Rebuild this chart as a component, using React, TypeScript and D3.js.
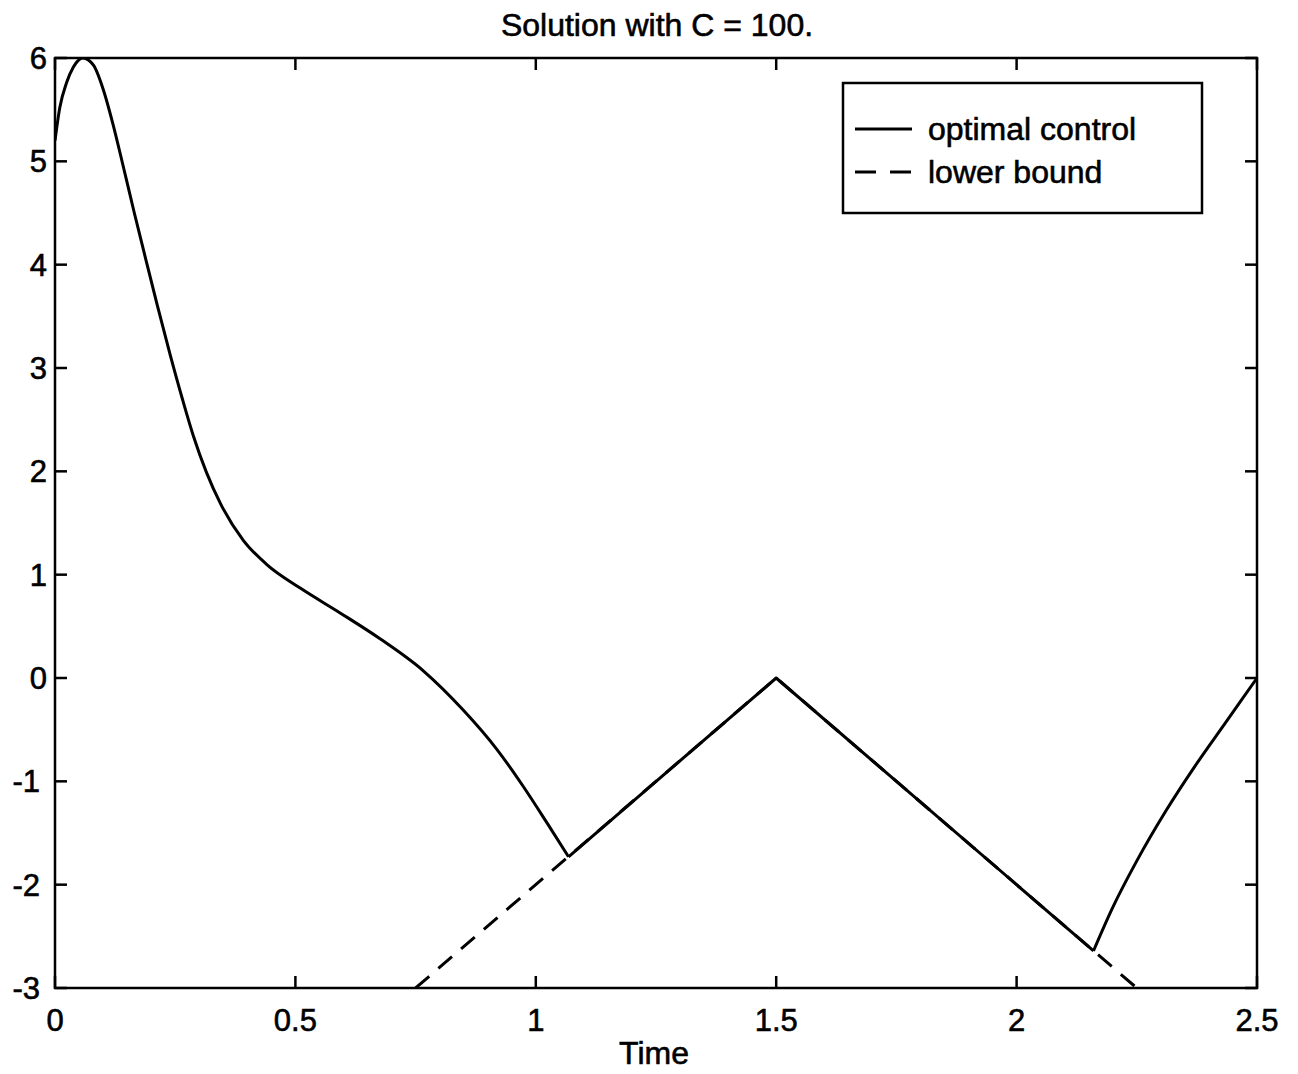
import React from "react"
import * as d3 from "d3"

// optimal control, smooth start (t, value)
const controlHead: [number, number][] = [
  [0, 5.2], [0.01, 5.52], [0.024, 5.76], [0.038, 5.91], [0.058, 6.0],
  [0.08, 5.93], [0.1, 5.7], [0.12, 5.37], [0.142, 4.95], [0.165, 4.5],
  [0.19, 4.03], [0.212, 3.62], [0.24, 3.12], [0.265, 2.7], [0.288, 2.34],
  [0.315, 1.99], [0.345, 1.68], [0.392, 1.33], [0.44, 1.1], [0.51, 0.87],
  [0.593, 0.63], [0.676, 0.38], [0.766, 0.07], [0.849, -0.31], [0.919, -0.69],
  [0.974, -1.05], [1.023, -1.4], [1.068, -1.73]
]
// on the constraint
const controlMid: [number, number][] = [[1.068, -1.73], [1.5, 0], [2.16, -2.64]]
// smooth end
const controlTail: [number, number][] = [
  [2.16, -2.64], [2.2, -2.22], [2.25, -1.77], [2.31, -1.29],
  [2.37, -0.86], [2.435, -0.43], [2.5, 0]
]
const lowerBound: [number, number][] = [[0.75, -3], [1.5, 0], [2.25, -3]]

const xTicks = [0, 0.5, 1, 1.5, 2, 2.5]
const xTickLabels = ["0", "0.5", "1", "1.5", "2", "2.5"]
const yTicks = [-3, -2, -1, 0, 1, 2, 3, 4, 5, 6]

const W = 1298
const H = 1074
const left = 55
const right = 1257
const top = 58
const bottom = 988
const font = "'Liberation Sans', Arial, Helvetica, sans-serif"

export default function App() {
  const x = d3.scaleLinear().domain([0, 2.5]).range([left, right])
  const y = d3.scaleLinear().domain([-3, 6]).range([bottom, top])

  const smooth = d3.line<[number, number]>()
    .x(d => x(d[0]))
    .y(d => y(d[1]))
    .curve(d3.curveMonotoneX)
  const straight = d3.line<[number, number]>()
    .x(d => x(d[0]))
    .y(d => y(d[1]))

  const tick = 12
  // scanned text looks a little heavier
  const textStyle = { stroke: "#000", strokeWidth: 0.6 }

  return (
    <svg width={W} height={H} style={{ position: "absolute", left: 0, top: 0, background: "#fff" }}
      fontFamily={font}>
      <defs>
        <clipPath id="plot">
          <rect x={left} y={top} width={right - left} height={bottom - top} />
        </clipPath>
      </defs>

      <text x={657} y={36} fontSize={32} textAnchor="middle" style={textStyle}>Solution with C = 100.</text>

      <g clipPath="url(#plot)" fill="none" stroke="#000" strokeWidth={3} strokeLinejoin="round">
        <path d={straight(lowerBound) ?? ""} strokeDasharray="18 12" />
        <path d={smooth(controlHead) ?? ""} />
        <path d={straight(controlMid) ?? ""} />
        <path d={smooth(controlTail) ?? ""} />
      </g>

      <rect x={left} y={top} width={right - left} height={bottom - top}
        fill="none" stroke="#000" strokeWidth={2.5} />

      {xTicks.map((t, i) => (
        <g key={"x" + i}>
          <line x1={x(t)} x2={x(t)} y1={bottom} y2={bottom - tick} stroke="#000" strokeWidth={2.5} />
          <line x1={x(t)} x2={x(t)} y1={top} y2={top + tick} stroke="#000" strokeWidth={2.5} />
          <text x={x(t)} y={1031} fontSize={31} textAnchor="middle" style={textStyle}>{xTickLabels[i]}</text>
        </g>
      ))}
      {yTicks.map(v => (
        <g key={"y" + v}>
          <line x1={left} x2={left + tick} y1={y(v)} y2={y(v)} stroke="#000" strokeWidth={2.5} />
          <line x1={right} x2={right - tick} y1={y(v)} y2={y(v)} stroke="#000" strokeWidth={2.5} />
          <text x={v < 0 ? 40 : 47} y={y(v) + 11} fontSize={31} textAnchor="end" style={textStyle}>{v}</text>
        </g>
      ))}

      <text x={654} y={1064} fontSize={32} textAnchor="middle" style={textStyle}>Time</text>

      <g>
        <rect x={843} y={83} width={359} height={130} fill="#fff" stroke="#000" strokeWidth={2.5} />
        <line x1={855} x2={912} y1={129} y2={129} stroke="#000" strokeWidth={3} />
        <text x={928} y={140} fontSize={32} style={textStyle}>optimal control</text>
        <line x1={855} x2={912} y1={172} y2={172} stroke="#000" strokeWidth={3} strokeDasharray="21 14" />
        <text x={928} y={183} fontSize={32} style={textStyle}>lower bound</text>
      </g>
    </svg>
  )
}
